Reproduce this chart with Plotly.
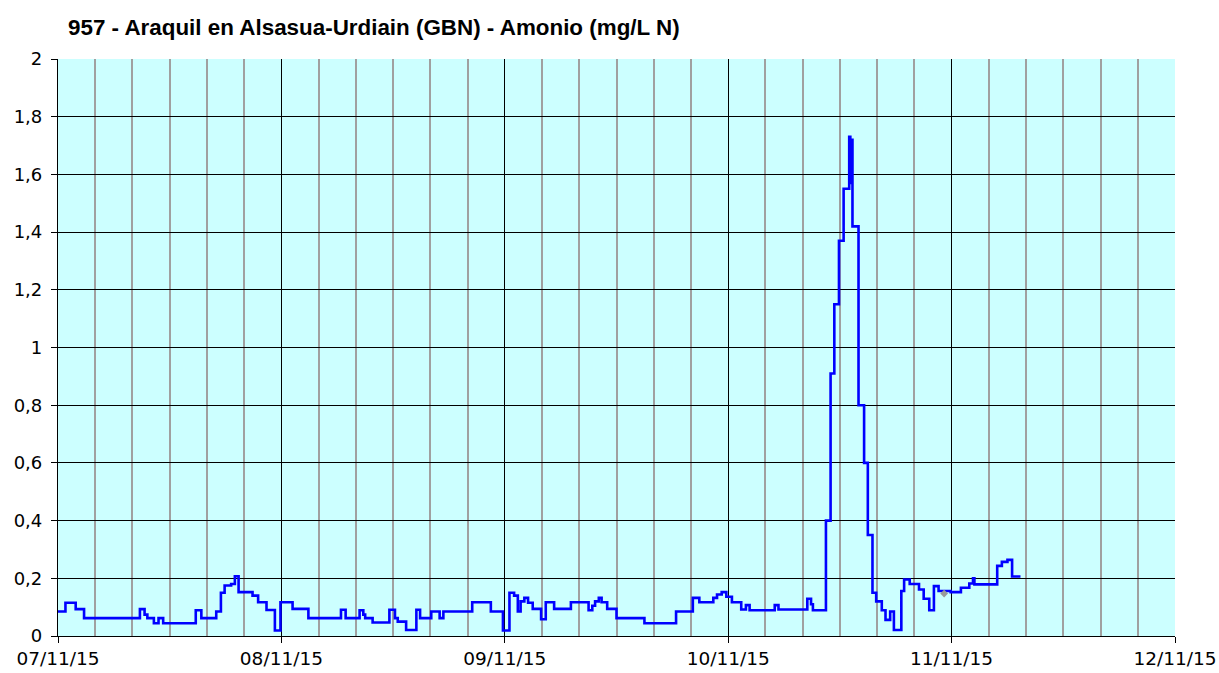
import plotly.graph_objects as go
from datetime import datetime, timedelta

start = datetime(2015, 11, 7)

# hours since 07/11/15 00:00 where the value changes, and the new value (mg/L N)
hours = [0.0, 0.8, 1.9, 2.8, 8.8, 9.3, 9.6, 10.3, 10.8, 11.3, 14.8, 15.4, 17.0, 17.5,
         17.9, 18.6, 19.0, 19.4, 20.9, 21.5, 22.4, 23.3, 23.9, 25.2, 26.9, 30.4, 30.9,
         32.4, 32.8, 33.0, 33.8, 35.6, 36.2, 36.5, 37.4, 38.5, 38.9, 40.1, 41.0, 41.4,
         44.5, 46.5, 47.8, 48.5, 49.0, 49.4, 49.7, 50.1, 50.5, 51.0, 51.9, 52.4, 53.3,
         55.1, 57.0, 57.4, 57.7, 58.1, 58.4, 59.0, 60.0, 63.0, 66.4, 68.2, 68.9, 70.4,
         70.8, 71.3, 71.8, 72.4, 73.4, 73.9, 74.3, 77.0, 77.4, 80.5, 80.9, 81.1, 82.5,
         83.0, 83.4, 83.9, 84.4, 85.0, 85.12, 85.2, 85.35, 86.0, 86.6, 87.0, 87.5, 87.9,
         88.5, 88.9, 89.4, 89.8, 90.6, 90.9, 91.5, 92.5, 93.0, 93.6, 94.1, 94.6, 95.9,
         97.0, 97.9, 98.3, 98.45, 100.9, 101.4, 102.0, 102.5]
values = [0.085, 0.115, 0.093, 0.062, 0.093, 0.074, 0.062, 0.044, 0.062, 0.044, 0.089, 0.062,
          0.085, 0.150, 0.175, 0.180, 0.207, 0.152, 0.140, 0.117, 0.090, 0.019, 0.117, 0.094,
          0.062, 0.091, 0.062, 0.089, 0.074, 0.062, 0.047, 0.091, 0.062, 0.050, 0.021, 0.091,
          0.062, 0.085, 0.062, 0.085, 0.117, 0.085, 0.019, 0.150, 0.140, 0.085, 0.120, 0.132,
          0.115, 0.094, 0.058, 0.117, 0.094, 0.117, 0.089, 0.105, 0.120, 0.132, 0.117, 0.094,
          0.062, 0.044, 0.085, 0.132, 0.117, 0.132, 0.144, 0.152, 0.136, 0.117, 0.092, 0.107,
          0.089, 0.107, 0.092, 0.129, 0.110, 0.089, 0.400, 0.910, 1.150, 1.370, 1.550, 1.730,
          1.570, 1.720, 1.420, 0.800, 0.600, 0.350, 0.150, 0.120, 0.089, 0.056, 0.085, 0.021,
          0.156, 0.196, 0.180, 0.161, 0.129, 0.089, 0.173, 0.156, 0.152, 0.167, 0.182, 0.200,
          0.179, 0.243, 0.257, 0.264, 0.206]
end_hour = 103.4

# single grey (unvalidated) point
grey_hour = [95.2]
grey_value = [0.147]

title_text = "957 - Araquil en Alsasua-Urdiain (GBN) - Amonio (mg/L N)"

times = [start + timedelta(hours=h) for h in hours] + [start + timedelta(hours=end_hour)]
vals = values + [values[-1]]

fig = go.Figure()
fig.add_trace(go.Scatter(x=times, y=vals, mode="lines",
                         line=dict(color="#0000FF", width=2.6, shape="hv"),
                         hoverinfo="x+y"))
fig.add_trace(go.Scatter(x=[start + timedelta(hours=h) for h in grey_hour], y=grey_value,
                         mode="markers",
                         marker=dict(symbol="diamond", color="#999999", size=6)))

W, H = 1219, 673
fig.update_layout(
    width=W, height=H,
    margin=dict(l=58, r=44, t=59, b=37),
    plot_bgcolor="#CCFFFF", paper_bgcolor="white",
    separators=",.",
    showlegend=False,
    title=dict(text="<b>" + title_text + "</b>", x=68 / W, xanchor="left",
               y=1 - 27 / H, yanchor="middle", yref="container",
               font=dict(family="Liberation Sans, Arial", size=22.4, color="black")),
    font=dict(family="DejaVu Sans, Verdana", size=18, color="black"),
)

fig.update_xaxes(
    range=[start, start + timedelta(days=5)],
    tick0=start, dtick=86400000, tickformat="%d/%m/%y",
    tickfont=dict(size=18.5),
    automargin=False, ticklabeloverflow="allow",
    showgrid=True, gridcolor="black", gridwidth=1.2,
    minor=dict(dtick=4 * 3600000, showgrid=True, gridcolor="#A0A0A0", gridwidth=1.6),
    showline=True, linecolor="black", linewidth=1.2,
    ticks="outside", ticklen=6, tickcolor="black",
    zeroline=False,
)
fig.update_yaxes(
    range=[0, 2], dtick=0.2, tick0=0,
    automargin=False,
    showgrid=True, gridcolor="black", gridwidth=1.2,
    showline=True, linecolor="black", linewidth=1.2,
    ticks="outside", ticklen=6, tickcolor="black",
    ticklabelstandoff=5,
    zeroline=False,
)

fig.write_html(
    "out.html",
    config={"displayModeBar": False},
    post_script="document.body.style.margin='0';document.body.style.overflow='hidden';",
)
